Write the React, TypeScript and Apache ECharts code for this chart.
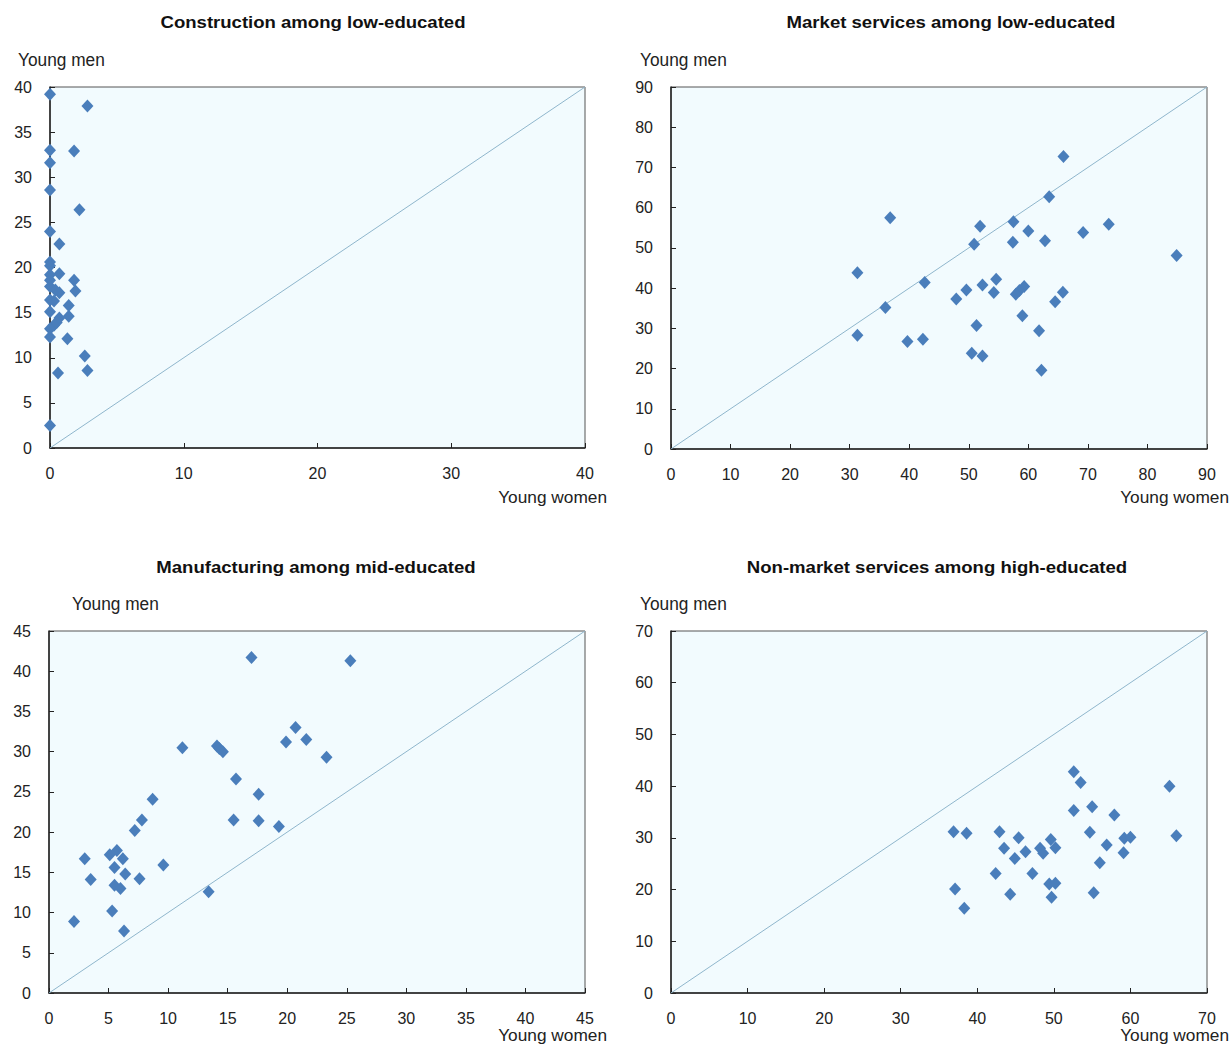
import React, { useEffect, useRef } from "react";
import * as echarts from "echarts";

// Panel 1: Construction among low-educated (x: young women, y: young men)
const constructionX = [0, 2.8, 0, 1.8, 0, 0, 2.2, 0, 0.7, 0, 0, 0.7, 0, 0, 1.8, 0, 1.9, 0.4, 0.7, 0, 1.4, 0.3, 0, 1.4, 0.7, 0.5, 0.3, 0, 0, 1.3, 2.6, 0.6, 2.8, 0];
const constructionY = [39.2, 37.9, 33.0, 32.9, 31.6, 28.6, 26.4, 24.0, 22.6, 20.6, 20.2, 19.3, 19.2, 18.6, 18.6, 17.9, 17.4, 17.5, 17.2, 16.4, 15.8, 16.3, 15.1, 14.6, 14.4, 13.9, 13.6, 13.2, 12.3, 12.1, 10.2, 8.3, 8.6, 2.5];

// Panel 2: Market services among low-educated
const marketX = [65.9, 63.5, 36.8, 51.9, 57.5, 60.0, 69.2, 73.5, 50.9, 57.4, 62.8, 84.9, 31.3, 42.6, 54.6, 52.3, 49.6, 47.9, 54.2, 59.3, 58.5, 57.9, 65.8, 64.5, 36.0, 59.0, 51.3, 61.8, 31.3, 39.7, 42.3, 50.5, 52.3, 62.2];
const marketY = [72.7, 62.7, 57.5, 55.4, 56.5, 54.2, 53.8, 55.9, 50.9, 51.4, 51.8, 48.1, 43.8, 41.4, 42.2, 40.8, 39.5, 37.3, 38.9, 40.4, 39.4, 38.5, 39.0, 36.6, 35.2, 33.1, 30.7, 29.4, 28.3, 26.7, 27.3, 23.8, 23.1, 19.6];

// Panel 3: Manufacturing among mid-educated
const manufX = [17.0, 25.3, 20.7, 19.9, 21.6, 23.3, 11.2, 14.1, 14.6, 14.3, 15.7, 17.6, 15.5, 17.6, 19.3, 8.7, 7.8, 7.2, 3.0, 5.1, 5.7, 6.2, 5.5, 6.4, 9.6, 3.5, 7.6, 5.5, 6.0, 13.4, 5.3, 2.1, 6.3];
const manufY = [41.7, 41.3, 33.0, 31.2, 31.5, 29.3, 30.5, 30.7, 30.0, 30.4, 26.6, 24.7, 21.5, 21.4, 20.7, 24.1, 21.5, 20.2, 16.7, 17.2, 17.7, 16.7, 15.6, 14.8, 15.9, 14.1, 14.2, 13.4, 13.0, 12.6, 10.2, 8.9, 7.7];

// Panel 4: Non-market services among high-educated
const nonMarketX = [52.6, 53.5, 65.1, 52.6, 55.0, 57.9, 66.0, 36.9, 38.6, 42.9, 45.4, 54.7, 43.5, 46.3, 44.9, 48.2, 48.6, 49.6, 50.2, 56.9, 59.2, 60.0, 59.1, 56.0, 42.4, 47.2, 49.4, 50.2, 37.1, 44.3, 55.2, 49.7, 38.3];
const nonMarketY = [42.8, 40.7, 40.0, 35.3, 36.0, 34.4, 30.4, 31.2, 30.9, 31.2, 30.0, 31.1, 28.0, 27.3, 26.0, 28.0, 27.0, 29.7, 28.1, 28.6, 29.9, 30.1, 27.1, 25.2, 23.1, 23.1, 21.1, 21.2, 20.1, 19.1, 19.4, 18.5, 16.4];

const titles = [
  "Construction among low-educated",
  "Market services among low-educated",
  "Manufacturing among mid-educated",
  "Non-market services among high-educated",
];
const yName = "Young men";
const xName = "Young women";
const axisMax = [40, 90, 45, 70];
const yStep = [5, 10, 5, 10];
const xStep = [10, 10, 5, 10];

const FONT = "'Liberation Sans Narrow', 'Arial Narrow', 'Liberation Sans', Arial, sans-serif";

export default function App() {
  const ref = useRef<HTMLDivElement>(null);

  useEffect(() => {
    document.body.style.margin = "0";
    if (!ref.current) return;
    const chart = echarts.init(ref.current, undefined, { renderer: "svg" });

    const xs = [constructionX, marketX, manufX, nonMarketX];
    const ys = [constructionY, marketY, manufY, nonMarketY];

    const grids = [
      { left: 50, top: 87, width: 535, height: 361 },
      { left: 671, top: 87, width: 536, height: 362 },
      { left: 49, top: 631, width: 536, height: 362 },
      { left: 671, top: 631, width: 536, height: 362 },
    ].map((g) => ({
      ...g,
      show: true,
      backgroundColor: "#F2FBFE",
      borderColor: "#555",
      borderWidth: 1,
    }));

    const axisCommon = {
      type: "value" as const,
      min: 0,
      splitLine: { show: false },
      axisLine: { show: true, lineStyle: { color: "#222", width: 1.5 } },
      axisTick: { show: true, inside: true, length: 5, lineStyle: { color: "#222" } },
      axisLabel: { color: "#222", fontFamily: FONT, fontSize: 16 },
    };

    const xAxis = axisMax.map((m, i) => ({
      ...axisCommon,
      gridIndex: i,
      max: m,
      interval: xStep[i],
      axisLabel: { ...axisCommon.axisLabel, margin: 17 },
    }));
    const yAxis = axisMax.map((m, i) => ({
      ...axisCommon,
      gridIndex: i,
      max: m,
      interval: yStep[i],
      axisLabel: { ...axisCommon.axisLabel, margin: 18 },
    }));

    const series: any[] = [];
    axisMax.forEach((m, i) => {
      series.push({
        type: "line",
        xAxisIndex: i,
        yAxisIndex: i,
        data: [
          [0, 0],
          [m, m],
        ],
        symbol: "none",
        lineStyle: { color: "#8FB6CC", width: 1 },
        silent: true,
        z: 1,
      });
      series.push({
        type: "scatter",
        xAxisIndex: i,
        yAxisIndex: i,
        data: xs[i].map((x, k) => [x, ys[i][k]]),
        symbol: "diamond",
        symbolSize: [12, 13],
        itemStyle: { color: "#4A7EBB", opacity: 1 },
        z: 3,
      });
    });

    const titlePos = [
      [313, 22],
      [951, 22],
      [316, 567],
      [937, 567],
    ];
    const menPos = [
      [18, 60],
      [640, 60],
      [72, 604],
      [640, 604],
    ];
    const womenPos = [
      [607, 498],
      [1229, 498],
      [607, 1036],
      [1229, 1036],
    ];

    const graphic: any[] = [];
    titles.forEach((t, i) => {
      graphic.push({
        type: "text",
        x: titlePos[i][0],
        y: titlePos[i][1],
        scaleX: 1.16,
        style: {
          text: t,
          fontFamily: FONT,
          fontSize: 16,
          fontWeight: "bold",
          fill: "#111",
          align: "center",
          verticalAlign: "middle",
        },
      });
      graphic.push({
        type: "text",
        x: menPos[i][0],
        y: menPos[i][1],
        scaleX: 1.08,
        scaleY: 1.12,
        style: {
          text: yName,
          fontFamily: FONT,
          fontSize: 16,
          fill: "#222",
          align: "left",
          verticalAlign: "middle",
        },
      });
      graphic.push({
        type: "text",
        x: womenPos[i][0],
        y: womenPos[i][1],
        scaleX: 1.08,
        scaleY: 1.05,
        style: {
          text: xName,
          fontFamily: FONT,
          fontSize: 16,
          fill: "#222",
          align: "right",
          verticalAlign: "middle",
        },
      });
    });

    chart.setOption({
      animation: false,
      backgroundColor: "#fff",
      grid: grids,
      xAxis,
      yAxis,
      series,
      graphic,
    });

    return () => chart.dispose();
  }, []);

  return <div ref={ref} style={{ width: 1231, height: 1048 }} />;
}
